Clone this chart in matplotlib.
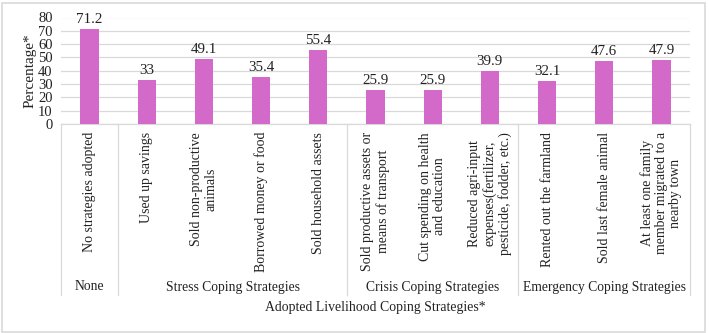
import matplotlib
matplotlib.use("Agg")
import matplotlib.pyplot as plt
from matplotlib.patches import Rectangle
from matplotlib.transforms import blended_transform_factory

categories = [
    "No strategies adopted",
    "Used up savings",
    "Sold non-productive\nanimals",
    "Borrowed money or food",
    "Sold household assets",
    "Sold productive assets or\nmeans of transport",
    "Cut spending on health\nand education",
    "Reduced agri-input\nexpenses(fertilizer,\npesticide, fodder, etc.)",
    "Rented out the farmland",
    "Sold last female animal",
    "At least one family\nmember migrated to a\nnearby town",
]
values = [71.2, 33, 49.1, 35.4, 55.4, 25.9, 25.9, 39.9, 32.1, 47.6, 47.9]
value_labels = ["71.2", "33", "49.1", "35.4", "55.4", "25.9", "25.9", "39.9", "32.1", "47.6", "47.9"]
groups = ["None", "Stress Coping Strategies", "Crisis Coping Strategies", "Emergency Coping Strategies"]
group_sizes = [1, 4, 3, 3]
yticks = [0, 10, 20, 30, 40, 50, 60, 70, 80]

plt.rcParams['font.family'] = ['Liberation Serif', 'DejaVu Serif']
W, H = 709, 333
fig = plt.figure(figsize=(W / 100, H / 100), dpi=100)

left, right, bottom_px, top_px = 61, 690, 124, 17.5
ax = fig.add_axes([left / W, (H - bottom_px) / H, (right - left) / W, (bottom_px - top_px) / H])

n = len(categories)
x = list(range(n))
bar_color = "#D36AC9"
ax.bar(x, values, width=0.32, color=bar_color, zorder=3)
for xi, v, lab in zip(x, values, value_labels):
    ax.text(xi, v + 2.2, lab, ha="center", va="bottom", fontsize=10.8, color="#222222")

ax.set_xlim(-0.5, n - 0.5)
ax.set_ylim(0, 80)
ax.set_yticks(yticks)
ax.set_yticklabels([str(t) for t in yticks], fontsize=10.5, color="#222222")
ax.tick_params(axis="y", length=0, pad=6)
ax.set_xticks([])
ax.grid(axis="y", color="#d9d9d9", linewidth=0.9, zorder=0)
for s in ["top", "right", "left"]:
    ax.spines[s].set_visible(False)
ax.spines["bottom"].set_color("#d9d9d9")
ax.spines["bottom"].set_linewidth(0.9)
ax.set_ylabel("Percentage*", fontsize=11, color="#222222", labelpad=1)

trans = blended_transform_factory(ax.transData, fig.transFigure)
# category labels
lab_top = (H - 132) / H
for xi, c in zip(x, categories):
    ax.text(xi, lab_top, c, transform=trans, rotation=90, ha="center", va="top",
            multialignment="center", fontsize=10.0, color="#222222", linespacing=1.12)

# group separators and labels
sep_bottom = (H - 295) / H
sep_top = (H - bottom_px) / H
pos = -0.5
bounds = [pos]
for g, sz in zip(groups, group_sizes):
    center = pos + sz / 2
    ax.text(center, (H - 287) / H, g, transform=trans, ha="center", va="center",
            fontsize=9.8, color="#222222")
    pos += sz
    bounds.append(pos)
for b in bounds:
    ax.plot([b, b], [sep_bottom, sep_top], transform=trans, color="#d9d9d9",
            linewidth=0.9, clip_on=False)

fig.text((left + right) / 2 / W, (H - 307) / H, "Adopted Livelihood Coping Strategies*",
         ha="center", va="center", fontsize=9.9, color="#222222")

# outer frame
fig.patches.append(Rectangle((1.5 / W, 1.5 / H), (W - 6) / W, (H - 4) / H,
                             transform=fig.transFigure, fill=False,
                             edgecolor="#d9d9d9", linewidth=1.2))

fig.savefig("out.png", dpi=100)
